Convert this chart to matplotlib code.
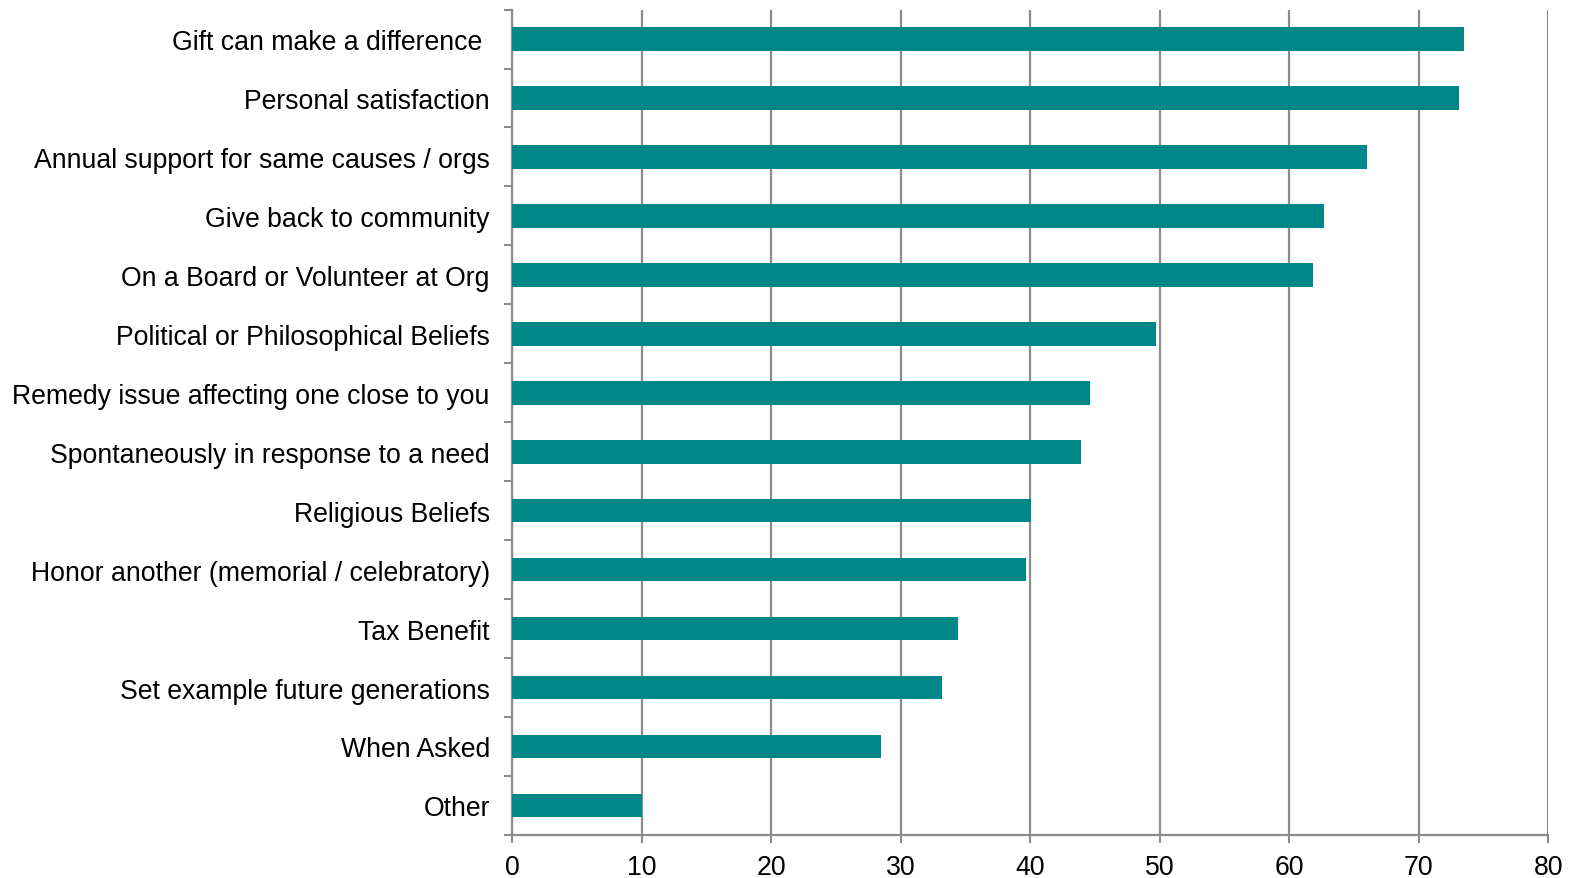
import matplotlib.pyplot as plt


# ==========================================================
# Data
# ==========================================================

categories = [
    "Gift can make a difference ",
    "Personal satisfaction",
    "Annual support for same causes / orgs",
    "Give back to community",
    "On a Board or Volunteer at Org",
    "Political or Philosophical Beliefs",
    "Remedy issue affecting one close to you",
    "Spontaneously in response to a need",
    "Religious Beliefs",
    "Honor another (memorial / celebratory)",
    "Tax Benefit",
    "Set example future generations",
    "When Asked",
    "Other",
]

values = [73.5, 73.1, 66.0, 62.7, 61.8, 49.7, 44.6,
          43.9, 40.1, 39.7, 34.4, 33.2, 28.5, 10.0]

x_ticks = [0, 10, 20, 30, 40, 50, 60, 70, 80]


# ==========================================================
# Figure
# ==========================================================

plt.rcParams["font.family"] = ["Liberation Sans", "DejaVu Sans"]

fig = plt.figure(figsize=(15.77, 8.79), dpi=100)
ax = fig.add_axes([0.3247, 0.049, 0.9818 - 0.3247, 0.988 - 0.049])

positions = list(range(len(categories)))

ax.barh(
    positions,
    values,
    height=0.4,
    color="#008787",
    zorder=3,
)

ax.set_ylim(len(categories) - 0.5, -0.5)
ax.set_xlim(0, 80)

ax.set_xticks(x_ticks)
ax.set_yticks(positions)
ax.set_yticklabels(categories)

# tick marks between categories on the left spine
ax.set_yticks([p + 0.5 for p in range(-1, len(categories))], minor=True)
ax.tick_params(axis="y", which="major", length=0, pad=16, labelsize=19.2)
ax.tick_params(axis="y", which="minor", length=6, width=1.5, color="#8c8c8c")
ax.tick_params(axis="x", length=5.5, width=1.5, color="#8c8c8c",
               labelsize=19.2, pad=8)

ax.grid(axis="x", color="#8c8c8c", linewidth=1.6, zorder=0)

for side in ["top", "right"]:
    ax.spines[side].set_visible(False)
for side in ["left", "bottom"]:
    ax.spines[side].set_color("#8c8c8c")
    ax.spines[side].set_linewidth(1.6)

fig.savefig("out.png", dpi=100)
